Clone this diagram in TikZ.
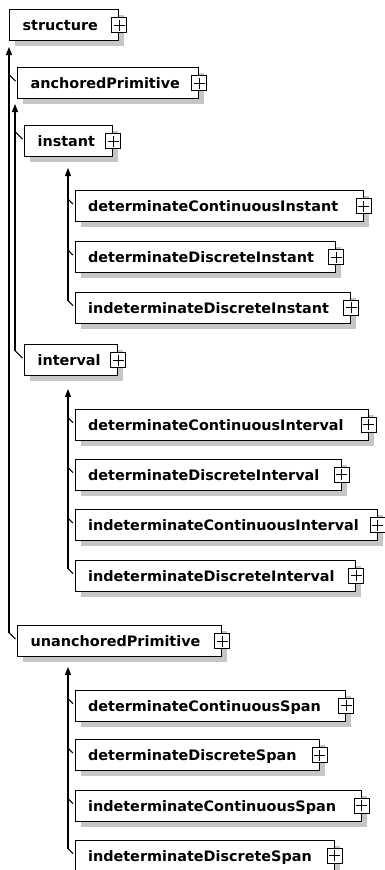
\documentclass[tikz,border=0pt]{standalone}
\usepackage{fontspec}
\setmainfont{DejaVu Sans}
\usetikzlibrary{arrows.meta,calc}
\definecolor{shadowgray}{RGB}{198,198,198}

% one schema element: drop shadow, framed label, expand button on the right edge
% #1 name, #2 left, #3 top, #4 width, #5 label
\newcommand\xsdelem[5]{%
  \pgfmathsetmacro\xsdtw{#4-26}%
  \fill[shade] (#2+6,#3+6) rectangle ++(#4,31);
  \node[elem, minimum width=#4pt, text width=\xsdtw pt] (#1) at (#2,#3) {#5};
  \node[plusbox] (#1-plus) at (#1.east) {};
  \draw[line width=1pt] ([yshift=2.5pt]#1-plus.south) -- ([yshift=-2.5pt]#1-plus.north)
        ([xshift=2.5pt]#1-plus.west) -- ([xshift=-2.5pt]#1-plus.east);
}
% short slanted branch from a parent's trunk into a child element
% #1 parent tip, #2 child, #3 horizontal run of the slant
\newcommand\xsdlink[3]{%
  \draw[conn] ($(#1 |- #2.west)+(0,-#3-2)$) -- ([xshift=-1.5pt,yshift=2pt]#2.west);
}

\begin{document}
\begin{tikzpicture}[x=1pt,y=-1pt,
  elem/.style={draw=black, line width=1.2pt, fill=white, anchor=north west,
    minimum height=31pt, inner xsep=13pt, inner ysep=0pt, align=left,
    text height=11.4pt, text depth=0pt,
    font=\fontsize{14.4}{16}\selectfont\bfseries},
  plusbox/.style={draw=black, line width=1.1pt, fill=white, minimum size=15pt, inner sep=0pt},
  shade/.style={fill=shadowgray, draw=none},
  conn/.style={draw=black, line width=1.1pt},
  inherit/.style={conn, -{Triangle[width=6pt,length=8pt]}},
]
\useasboundingbox (0,0) rectangle (384,870);

% elements
\xsdelem{structure}{9}{9}{109}{structure}
\xsdelem{anchored}{17}{67}{181}{anchoredPrimitive}
\xsdelem{instant}{24}{125}{88}{instant}
\xsdelem{dci}{74.5}{190}{288}{determinateContinuousInstant}
\xsdelem{ddi}{74.5}{241}{260.5}{determinateDiscreteInstant}
\xsdelem{idi}{74.5}{291.5}{275.5}{indeterminateDiscreteInstant}
\xsdelem{interval}{24}{344}{93}{interval}
\xsdelem{dcv}{74.5}{408.5}{293}{determinateContinuousInterval}
\xsdelem{ddv}{74.5}{458.5}{266}{determinateDiscreteInterval}
\xsdelem{icv}{74.5}{509}{302}{indeterminateContinuousInterval}
\xsdelem{idv}{74.5}{559.5}{280.5}{indeterminateDiscreteInterval}
\xsdelem{unanchored}{17}{625}{204}{unanchoredPrimitive}
\xsdelem{dcs}{74.5}{689.5}{270.5}{determinateContinuousSpan}
\xsdelem{dds}{74.5}{739}{244}{determinateDiscreteSpan}
\xsdelem{ics}{74.5}{789.5}{286}{indeterminateContinuousSpan}
\xsdelem{ids}{74.5}{839.5}{259}{indeterminateDiscreteSpan}

% arrow tips below each base type
\coordinate (tipS) at (9,47);
\coordinate (tipA) at (15,104);
\coordinate (tipI) at (68,168);
\coordinate (tipV) at (68,389);
\coordinate (tipU) at (68,667);

% trunks
\draw[inherit] ($(tipS |- unanchored.west)+(0,-8.5)$) -- (tipS);
\draw[inherit] ($(tipA |- interval.west)+(0,-9.5)$) -- (tipA);
\draw[inherit] ($(tipI |- idi.west)+(0,-7)$) -- (tipI);
\draw[inherit] ($(tipV |- idv.west)+(0,-7)$) -- (tipV);
\draw[inherit] ($(tipU |- ids.west)+(0,-7)$) -- (tipU);

% branches
\xsdlink{tipS}{anchored}{6.5}
\xsdlink{tipS}{unanchored}{6.5}
\xsdlink{tipA}{instant}{7.5}
\xsdlink{tipA}{interval}{7.5}
\xsdlink{tipI}{dci}{5}
\xsdlink{tipI}{ddi}{5}
\xsdlink{tipI}{idi}{5}
\xsdlink{tipV}{dcv}{5}
\xsdlink{tipV}{ddv}{5}
\xsdlink{tipV}{icv}{5}
\xsdlink{tipV}{idv}{5}
\xsdlink{tipU}{dcs}{5}
\xsdlink{tipU}{dds}{5}
\xsdlink{tipU}{ics}{5}
\xsdlink{tipU}{ids}{5}
\end{tikzpicture}
\end{document}
